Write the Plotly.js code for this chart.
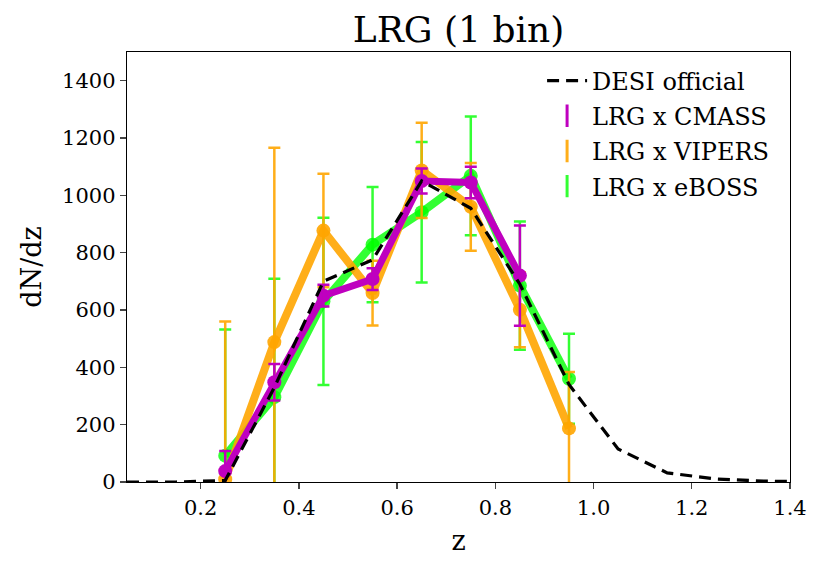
<!DOCTYPE html>
<html>
<head>
<meta charset="utf-8">
<script src="https://cdn.plot.ly/plotly-3.0.1.min.js"></script>
<style>html,body{margin:0;padding:0;background:#fff}</style>
</head>
<body>
<div id="chart" style="width:822px;height:572px"></div>
<script>
// bin centres
var zDesi = [0.05, 0.15, 0.25, 0.35, 0.45, 0.55, 0.65, 0.75, 0.85, 0.95, 1.05, 1.15, 1.25, 1.35, 1.45];
var nDesi = [0, 0, 5, 330, 700, 775, 1050, 955, 690, 340, 115, 32, 10, 3, 1];

var zCmass = [0.25, 0.35, 0.45, 0.55, 0.65, 0.75, 0.85];
var nCmass = [38, 348, 650, 708, 1050, 1045, 720];
var eCmass = [70, 64, 38, 38, 44, 55, 175];

var zVipers = [0.25, 0.35, 0.45, 0.55, 0.65, 0.75, 0.85, 0.95];
var nVipers = [10, 488, 877, 659, 1087, 960, 601, 187];
var eVipers = [550, 678, 198, 113, 166, 153, 131, 197];

var zEboss = [0.25, 0.35, 0.45, 0.55, 0.65, 0.75, 0.85, 0.95];
var nEboss = [92, 296, 630, 828, 941, 1068, 685, 360];
var eEboss = [440, 413, 292, 201, 245, 207, 224, 157];

var MAG = '#bf00bf', ORA = 'rgba(255,165,0,0.9)', GRN = 'rgba(0,255,0,0.8)';
var SERIF = 'DejaVu Serif, serif';

function series(x, y, err, color, lw) {
  return [{
    x: x, y: y, mode: 'lines+markers', showlegend: false, hoverinfo: 'skip',
    line: {color: color, width: lw}, marker: {color: color, size: 14}
  }, {
    x: x, y: y, mode: 'markers', showlegend: false,
    marker: {color: 'rgba(0,0,0,0)', size: 1},
    error_y: {type: 'data', array: err, visible: true, color: color, thickness: 2.5, width: 6}
  }];
}

function legendItem(name, color, rank) {
  return {
    x: [null], y: [null], mode: 'markers', name: name, legendrank: rank, legendgroup: name,
    marker: {symbol: 'line-ns-open', size: 22, color: color, line: {color: color, width: 3}}
  };
}

var data = []
  .concat(series(zEboss, nEboss, eEboss, GRN, 8))
  .concat(series(zVipers, nVipers, eVipers, ORA, 8))
  .concat(series(zCmass, nCmass, eCmass, MAG, 7))
  .concat([{
    x: zDesi, y: nDesi, mode: 'lines', name: 'DESI official', legendrank: 1, legendgroup: 'desi',
    line: {color: '#000', width: 3.2, dash: '12px,7px'}
  }])
  .concat([legendItem('LRG x CMASS', MAG, 2), legendItem('LRG x VIPERS', ORA, 3), legendItem('LRG x eBOSS', GRN, 4)]);

var layout = {
  width: 822, height: 572,
  margin: {l: 127, r: 32, t: 52, b: 90},
  paper_bgcolor: '#fff', plot_bgcolor: '#fff',
  font: {family: SERIF, color: '#000', size: 21},
  title: {text: 'LRG (1 bin)', font: {family: SERIF, size: 36}, xref: 'paper', x: 0.5, xanchor: 'center',
          yref: 'container', y: 0.97, yanchor: 'top'},
  xaxis: {
    range: [0.05, 1.4], tickvals: [0.2, 0.4, 0.6, 0.8, 1.0, 1.2, 1.4],
    ticktext: ['0.2', '0.4', '0.6', '0.8', '1.0', '1.2', '1.4'],
    ticks: 'outside', ticklen: 6, tickwidth: 1.3, showgrid: false, zeroline: false,
    showline: true, mirror: true, linecolor: '#000', linewidth: 1.3,
    tickfont: {size: 21},
    title: {text: 'z', font: {size: 27}, standoff: 12}
  },
  yaxis: {
    range: [0, 1500], tickvals: [0, 200, 400, 600, 800, 1000, 1200, 1400],
    ticks: 'outside', ticklen: 6, tickwidth: 1.3, showgrid: false, zeroline: false,
    showline: true, mirror: true, linecolor: '#000', linewidth: 1.3,
    tickfont: {size: 21},
    title: {text: 'dN/dz', font: {size: 27}, standoff: 12}
  },
  legend: {
    x: 0.976, y: 0.985, xanchor: 'right', yanchor: 'top',
    bgcolor: 'rgba(255,255,255,0.8)', borderwidth: 0,
    font: {size: 24}, tracegroupgap: 1, itemwidth: 40
  },
  showlegend: true
};

Plotly.newPlot('chart', data, layout, {staticPlot: true});
</script>
</body>
</html>
